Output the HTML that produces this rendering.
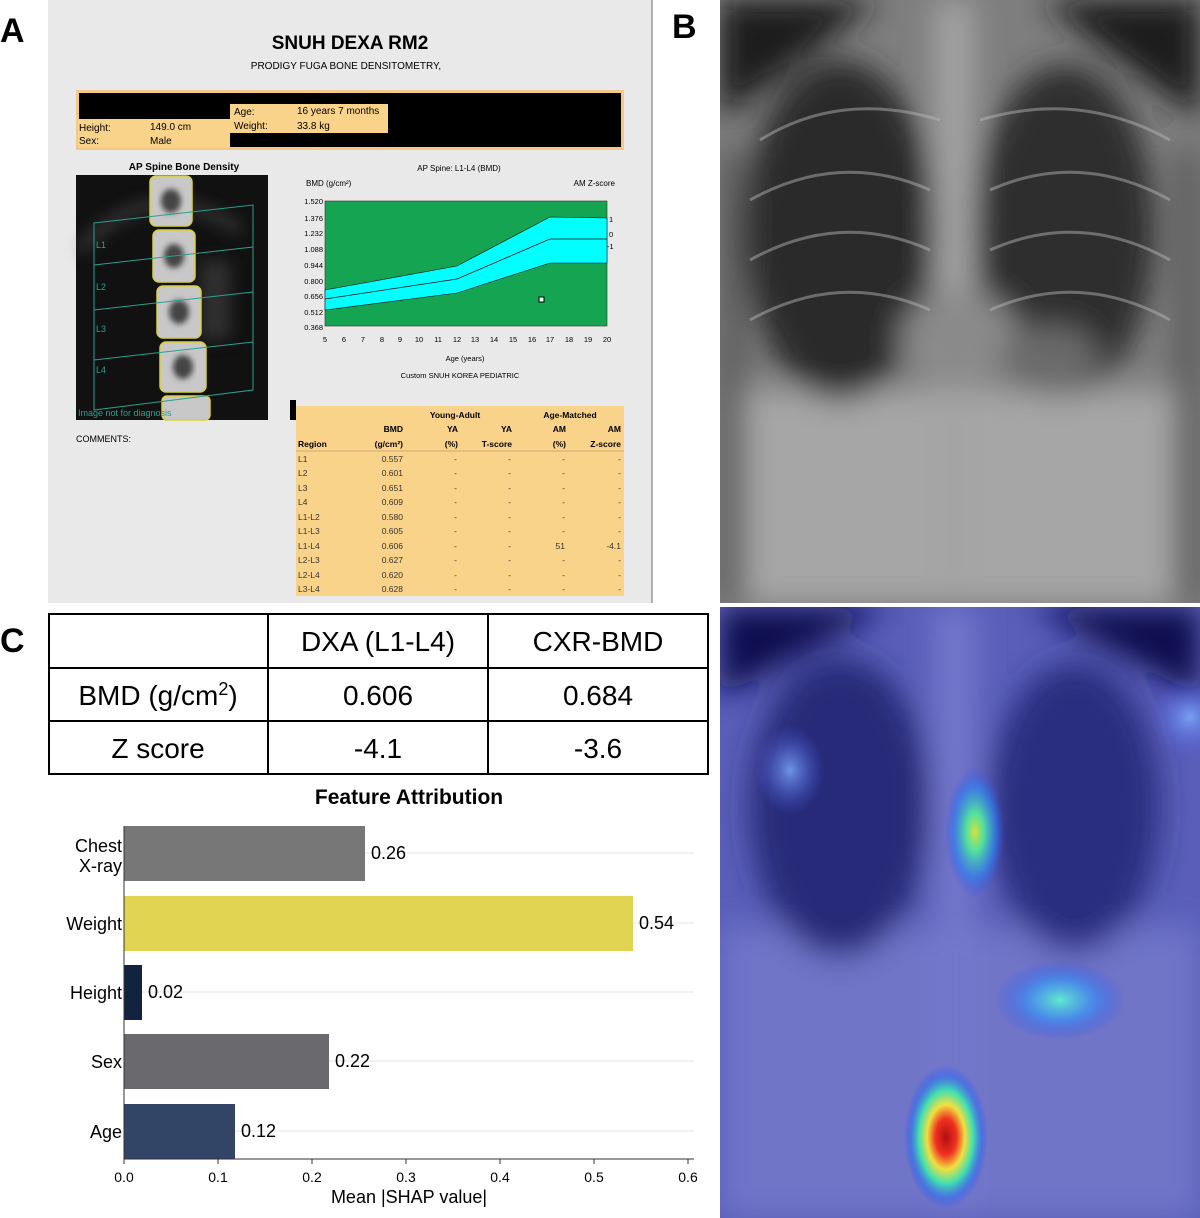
<!DOCTYPE html>
<html><head><meta charset="utf-8"><style>
html,body{margin:0;padding:0;background:#fff}
svg{display:block}
text{font-family:"Liberation Sans",Arial,sans-serif}
</style></head><body>
<svg width="1200" height="1218" viewBox="0 0 1200 1218" xmlns="http://www.w3.org/2000/svg">
<defs>
<filter id="b8" x="-50%" y="-50%" width="200%" height="200%"><feGaussianBlur stdDeviation="8"/></filter>
<filter id="b15" x="-50%" y="-50%" width="200%" height="200%"><feGaussianBlur stdDeviation="15"/></filter>
<filter id="b4"><feGaussianBlur stdDeviation="3"/></filter>
<radialGradient id="hot"><stop offset="0" stop-color="#b01010"/><stop offset="0.25" stop-color="#f03020"/><stop offset="0.45" stop-color="#f0e040"/><stop offset="0.65" stop-color="#40e0b0"/><stop offset="0.85" stop-color="#3070f0" stop-opacity="0.6"/><stop offset="1" stop-color="#3050f0" stop-opacity="0"/></radialGradient>
<radialGradient id="warm"><stop offset="0" stop-color="#d0e040"/><stop offset="0.3" stop-color="#50e0a0"/><stop offset="0.7" stop-color="#3080f0" stop-opacity="0.7"/><stop offset="1" stop-color="#3050f0" stop-opacity="0"/></radialGradient>
<radialGradient id="cool"><stop offset="0" stop-color="#60e8d0"/><stop offset="0.5" stop-color="#4090f0" stop-opacity="0.8"/><stop offset="1" stop-color="#3050f0" stop-opacity="0"/></radialGradient>
<radialGradient id="faint"><stop offset="0" stop-color="#80b0ff" stop-opacity="0.8"/><stop offset="1" stop-color="#5060f0" stop-opacity="0"/></radialGradient>
</defs>

<!-- Panel A -->
<rect x="48" y="0" width="604" height="603" fill="#e9e9e9"/>
<line x1="652" y1="0" x2="652" y2="603" stroke="#999" stroke-width="1.5"/>
<text x="0" y="42" font-size="34" font-weight="bold">A</text>
<text x="350" y="49" font-size="19" font-weight="bold" text-anchor="middle">SNUH DEXA RM2</text>
<text x="346" y="69" font-size="10" text-anchor="middle">PRODIGY FUGA BONE DENSITOMETRY,</text>
<rect x="76" y="90" width="548" height="60" fill="#f4c987"/>
<rect x="79" y="93" width="542" height="54" fill="#000"/>
<rect x="78" y="119" width="152" height="29" fill="#fad38a"/>
<rect x="230" y="104" width="158" height="29" fill="#fad38a"/>
<g font-size="10">
<text x="79" y="131">Height:</text><text x="150" y="130">149.0 cm</text>
<text x="79" y="144">Sex:</text><text x="150" y="144">Male</text>
<text x="234" y="115">Age:</text><text x="297" y="114">16 years 7 months</text>
<text x="234" y="129">Weight:</text><text x="297" y="129">33.8 kg</text>
</g>
<text x="184" y="170" font-size="10" font-weight="bold" text-anchor="middle">AP Spine Bone Density</text>
<rect x="76" y="175" width="192" height="245" fill="#111"/>
<g filter="url(#b8)" opacity="0.6">
<path d="M80 250 Q150 170 240 230" stroke="#666" stroke-width="8" fill="none"/>
<rect x="200" y="260" width="30" height="80" fill="#444"/>
</g>
<g fill="#c8c8c8" stroke="#d8d040" stroke-width="1.5">
<rect x="150" y="176" width="42" height="50" rx="6"/>
<rect x="153" y="230" width="42" height="52" rx="6"/>
<rect x="157" y="286" width="44" height="52" rx="6"/>
<rect x="160" y="342" width="46" height="50" rx="6"/>
<rect x="162" y="396" width="48" height="24" rx="5"/>
</g>
<g fill="#444" filter="url(#b4)">
<ellipse cx="171" cy="201" rx="10" ry="12"/><ellipse cx="174" cy="256" rx="10" ry="12"/>
<ellipse cx="179" cy="312" rx="10" ry="12"/><ellipse cx="183" cy="367" rx="10" ry="12"/>
</g>
<g stroke="#2aa090" stroke-width="1" fill="none">
<path d="M94 223 L253 205 L253 390 L94 410 Z"/>
<line x1="94" y1="265" x2="253" y2="247"/>
<line x1="94" y1="310" x2="253" y2="292"/>
<line x1="94" y1="360" x2="253" y2="342"/>
</g>
<g font-size="9" fill="#2aa090"><text x="96" y="248">L1</text><text x="96" y="290">L2</text><text x="96" y="332">L3</text><text x="96" y="373">L4</text>
<text x="78" y="416">Image not for diagnosis</text></g>
<text x="459" y="171" font-size="8" text-anchor="middle">AP Spine: L1-L4 (BMD)</text>
<text x="306" y="186" font-size="8">BMD (g/cm²)</text>
<text x="615" y="186" font-size="8" text-anchor="end">AM Z-score</text>
<rect x="325" y="201" width="282" height="125" fill="#14a452" stroke="#333" stroke-width="0.6"/>
<polygon points="325,290 457,266 550,217 607,218 607,263 550,263 457,293 325,310" fill="#00ffff" stroke="#111" stroke-width="0.6"/>
<polyline points="325,299 457,279 550,239 607,239" fill="none" stroke="#111" stroke-width="0.8"/>
<rect x="539" y="297" width="5" height="5" fill="#fff" stroke="#000" stroke-width="1"/>
<g font-size="7.5" text-anchor="end">
<text x="323" y="204">1.520</text><text x="323" y="221">1.376</text><text x="323" y="236">1.232</text><text x="323" y="252">1.088</text><text x="323" y="268">0.944</text><text x="323" y="284">0.800</text><text x="323" y="299">0.656</text><text x="323" y="315">0.512</text><text x="323" y="330">0.368</text>
</g>
<g font-size="7.5"><text x="609" y="222">1</text><text x="609" y="237">0</text><text x="607" y="249">-1</text></g>
<g font-size="7.5" text-anchor="middle">
<text x="325" y="342">5</text><text x="344" y="342">6</text><text x="363" y="342">7</text><text x="382" y="342">8</text><text x="400" y="342">9</text><text x="419" y="342">10</text><text x="438" y="342">11</text><text x="457" y="342">12</text><text x="475" y="342">13</text><text x="494" y="342">14</text><text x="513" y="342">15</text><text x="532" y="342">16</text><text x="550" y="342">17</text><text x="569" y="342">18</text><text x="588" y="342">19</text><text x="607" y="342">20</text>
<text x="465" y="361">Age (years)</text>
<text x="460" y="378">Custom SNUH KOREA PEDIATRIC</text>
</g>
<text x="76" y="442" font-size="9">COMMENTS:</text>
<rect x="296" y="406" width="328" height="190" fill="#fad38a"/>
<rect x="290" y="400" width="6" height="20" fill="#000"/>
<line x1="296" y1="451" x2="624" y2="451" stroke="#a08050" stroke-width="0.6"/>
<g font-size="8.5" font-weight="bold">
<text x="455" y="418" text-anchor="middle">Young-Adult</text><text x="570" y="418" text-anchor="middle">Age-Matched</text>
<text x="403" y="432" text-anchor="end">BMD</text><text x="458" y="432" text-anchor="end">YA</text><text x="512" y="432" text-anchor="end">YA</text><text x="566" y="432" text-anchor="end">AM</text><text x="621" y="432" text-anchor="end">AM</text>
<text x="298" y="447">Region</text><text x="403" y="447" text-anchor="end">(g/cm²)</text><text x="458" y="447" text-anchor="end">(%)</text><text x="512" y="447" text-anchor="end">T-score</text><text x="566" y="447" text-anchor="end">(%)</text><text x="621" y="447" text-anchor="end">Z-score</text>
</g>
<g font-size="8.5" fill="#333">
<g><text x="298" y="462">L1</text><text x="298" y="476">L2</text><text x="298" y="491">L3</text><text x="298" y="505">L4</text><text x="298" y="520">L1-L2</text><text x="298" y="534">L1-L3</text><text x="298" y="549">L1-L4</text><text x="298" y="563">L2-L3</text><text x="298" y="578">L2-L4</text><text x="298" y="592">L3-L4</text></g>
<g text-anchor="end"><text x="403" y="462">0.557</text><text x="403" y="476">0.601</text><text x="403" y="491">0.651</text><text x="403" y="505">0.609</text><text x="403" y="520">0.580</text><text x="403" y="534">0.605</text><text x="403" y="549">0.606</text><text x="403" y="563">0.627</text><text x="403" y="578">0.620</text><text x="403" y="592">0.628</text></g>
<g text-anchor="end">
<text x="457" y="462">-</text><text x="457" y="476">-</text><text x="457" y="491">-</text><text x="457" y="505">-</text><text x="457" y="520">-</text><text x="457" y="534">-</text><text x="457" y="549">-</text><text x="457" y="563">-</text><text x="457" y="578">-</text><text x="457" y="592">-</text>
<text x="511" y="462">-</text><text x="511" y="476">-</text><text x="511" y="491">-</text><text x="511" y="505">-</text><text x="511" y="520">-</text><text x="511" y="534">-</text><text x="511" y="549">-</text><text x="511" y="563">-</text><text x="511" y="578">-</text><text x="511" y="592">-</text>
<text x="565" y="462">-</text><text x="565" y="476">-</text><text x="565" y="491">-</text><text x="565" y="505">-</text><text x="565" y="520">-</text><text x="565" y="534">-</text><text x="565" y="549">51</text><text x="565" y="563">-</text><text x="565" y="578">-</text><text x="565" y="592">-</text>
<text x="621" y="462">-</text><text x="621" y="476">-</text><text x="621" y="491">-</text><text x="621" y="505">-</text><text x="621" y="520">-</text><text x="621" y="534">-</text><text x="621" y="549">-4.1</text><text x="621" y="563">-</text><text x="621" y="578">-</text><text x="621" y="592">-</text>
</g></g>

<!-- Panel B -->
<text x="672" y="38" font-size="34" font-weight="bold">B</text>
<svg x="720" y="0" width="480" height="603" viewBox="0 0 480 603">
<rect width="480" height="603" fill="#7e7e7e"/>
<g filter="url(#b15)">
<path d="M0 0 L160 0 L0 120 Z" fill="#1a1a1a"/><path d="M480 0 L320 0 L480 120 Z" fill="#1a1a1a"/>
<rect x="0" y="390" width="480" height="213" fill="#a6a6a6"/>
<ellipse cx="120" cy="230" rx="95" ry="170" fill="#2a2a2a"/>
<ellipse cx="345" cy="230" rx="90" ry="165" fill="#2e2e2e"/>
<rect x="215" y="0" width="38" height="603" fill="#a4a4a4"/>
<ellipse cx="240" cy="340" rx="60" ry="50" fill="#8a8a8a"/>
<ellipse cx="330" cy="360" rx="50" ry="35" fill="#6a6a6a"/>
<rect x="0" y="150" width="25" height="453" fill="#5a5a5a"/><rect x="455" y="150" width="25" height="453" fill="#5a5a5a"/>
</g>
<g stroke="#bcbcbc" stroke-width="3" fill="none" opacity="0.45">
<path d="M40 140 Q120 90 220 120"/><path d="M260 120 Q360 90 450 140"/>
<path d="M30 200 Q120 150 210 190"/><path d="M270 190 Q360 150 450 200"/>
<path d="M30 260 Q120 210 210 250"/><path d="M270 250 Q360 210 450 260"/>
<path d="M30 320 Q120 270 210 310"/><path d="M270 310 Q360 270 450 320"/>
</g>
</svg>

<!-- heatmap -->
<svg x="720" y="607" width="480" height="611" viewBox="0 0 480 611">
<rect width="480" height="611" fill="#5a5eb8"/>
<g filter="url(#b15)">
<path d="M0 0 L170 0 L0 90 Z" fill="#0a0d50"/><path d="M480 0 L310 0 L480 90 Z" fill="#0a0d50"/>
<rect x="0" y="320" width="480" height="291" fill="#6f74c8"/>
<ellipse cx="120" cy="200" rx="90" ry="150" fill="#262a78"/>
<ellipse cx="355" cy="200" rx="85" ry="145" fill="#2a2e80"/>
<rect x="215" y="0" width="40" height="611" fill="#7478cc"/>
</g>
<ellipse cx="255" cy="225" rx="30" ry="65" fill="url(#warm)"/>
<ellipse cx="226" cy="530" rx="42" ry="72" fill="url(#hot)"/>
<ellipse cx="340" cy="393" rx="65" ry="40" fill="url(#cool)"/>
<ellipse cx="70" cy="163" rx="35" ry="45" fill="url(#faint)"/>
<ellipse cx="470" cy="110" rx="40" ry="40" fill="url(#faint)"/>
</svg>

<!-- Panel C -->
<text x="0" y="652" font-size="34" font-weight="bold">C</text>
<g stroke="#000" stroke-width="2" fill="none">
<rect x="49" y="614" width="659" height="160"/>
<line x1="49" y1="668" x2="708" y2="668"/><line x1="49" y1="721" x2="708" y2="721"/>
<line x1="268" y1="614" x2="268" y2="774"/><line x1="488" y1="614" x2="488" y2="774"/>
</g>
<g font-size="28" text-anchor="middle">
<text x="378" y="651">DXA (L1-L4)</text><text x="598" y="651">CXR-BMD</text>
<text x="158" y="705">BMD (g/cm<tspan font-size="18" dy="-10">2</tspan><tspan dy="10">)</tspan></text>
<text x="378" y="705">0.606</text><text x="598" y="705">0.684</text>
<text x="158" y="758">Z score</text><text x="378" y="758">-4.1</text><text x="598" y="758">-3.6</text>
</g>
<text x="409" y="804" font-size="21" font-weight="bold" text-anchor="middle">Feature Attribution</text>
<g stroke="#e4e4e4" stroke-width="1">
<line x1="124" y1="853" x2="694" y2="853"/><line x1="124" y1="923" x2="694" y2="923"/><line x1="124" y1="992" x2="694" y2="992"/><line x1="124" y1="1061" x2="694" y2="1061"/><line x1="124" y1="1131" x2="694" y2="1131"/>
</g>
<rect x="124" y="826" width="241" height="55" fill="#777777"/>
<rect x="124" y="896" width="509" height="55" fill="#e2d453"/>
<rect x="124" y="965" width="18" height="55" fill="#11233f"/>
<rect x="124" y="1034" width="205" height="55" fill="#6a6a6e"/>
<rect x="124" y="1104" width="111" height="55" fill="#334567"/>
<g font-size="18">
<text x="371" y="859">0.26</text><text x="639" y="929">0.54</text><text x="148" y="998">0.02</text><text x="335" y="1067">0.22</text><text x="241" y="1137">0.12</text>
</g>
<g font-size="18" text-anchor="end">
<text x="122" y="852">Chest</text><text x="122" y="872">X-ray</text>
<text x="122" y="930">Weight</text><text x="122" y="999">Height</text><text x="122" y="1068">Sex</text><text x="122" y="1138">Age</text>
</g>
<line x1="124" y1="1159" x2="694" y2="1159" stroke="#333" stroke-width="1"/>
<line x1="124" y1="826" x2="124" y2="1159" stroke="#333" stroke-width="1"/>
<g stroke="#333"><line x1="124" y1="1159" x2="124" y2="1164"/><line x1="218" y1="1159" x2="218" y2="1164"/><line x1="312" y1="1159" x2="312" y2="1164"/><line x1="406" y1="1159" x2="406" y2="1164"/><line x1="500" y1="1159" x2="500" y2="1164"/><line x1="594" y1="1159" x2="594" y2="1164"/><line x1="688" y1="1159" x2="688" y2="1164"/></g>
<g font-size="14" text-anchor="middle">
<text x="124" y="1182">0.0</text><text x="218" y="1182">0.1</text><text x="312" y="1182">0.2</text><text x="406" y="1182">0.3</text><text x="500" y="1182">0.4</text><text x="594" y="1182">0.5</text><text x="688" y="1182">0.6</text>
</g>
<text x="409" y="1203" font-size="18" text-anchor="middle">Mean |SHAP value|</text>
</svg>
</body></html>
